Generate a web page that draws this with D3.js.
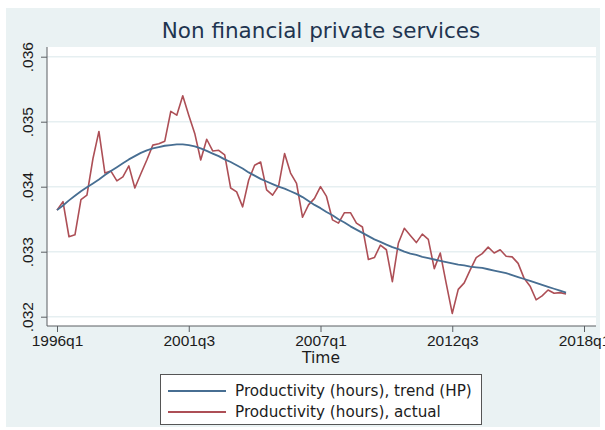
<!DOCTYPE html>
<html>
<head>
<meta charset="utf-8">
<script src="https://cdn.jsdelivr.net/npm/d3@7"></script>
<style>
  html, body { margin: 0; padding: 0; background: #ffffff; }
  svg { display: block; font-family: "DejaVu Sans", Verdana, sans-serif; }
</style>
</head>
<body>
<svg id="chart" width="605" height="430"></svg>
<script>
// Quarterly series, 1996q1 .. 2017q2 (index 0 = 1996q1)
const startYear = 1996;
const actual = [
  0.03364, 0.03377, 0.03323, 0.03326, 0.03380, 0.03387, 0.03443, 0.03485,
  0.03421, 0.03424, 0.03409, 0.03415, 0.03432, 0.03398, 0.03420, 0.03441,
  0.03464, 0.03466, 0.03470, 0.03516, 0.03510, 0.03540, 0.03510, 0.03482,
  0.03441, 0.03473, 0.03455, 0.03456, 0.03449, 0.03398, 0.03392, 0.03369,
  0.03410, 0.03433, 0.03438, 0.03395, 0.03387, 0.03401, 0.03451, 0.03421,
  0.03405, 0.03353, 0.03372, 0.03382, 0.03400, 0.03385, 0.03349, 0.03344,
  0.03360, 0.03360, 0.03344, 0.03338, 0.03288, 0.03291, 0.03310, 0.03303,
  0.03254, 0.03313, 0.03336, 0.03325, 0.03314, 0.03327, 0.03319, 0.03274,
  0.03298, 0.03251, 0.03205, 0.03242, 0.03252, 0.03272, 0.03291, 0.03297,
  0.03307, 0.03298, 0.03303, 0.03293, 0.03292, 0.03282, 0.03259, 0.03247,
  0.03226, 0.03232, 0.03241, 0.03236, 0.03237, 0.03235
];
const trend = [
  0.03364, 0.03371, 0.03379, 0.03386, 0.03393, 0.03399, 0.03405, 0.03411,
  0.03418, 0.03424, 0.03430, 0.03436, 0.03442, 0.03447, 0.03452, 0.03456,
  0.03459, 0.03461, 0.03463, 0.03464, 0.03465, 0.03465, 0.03464, 0.03462,
  0.03459, 0.03455, 0.03451, 0.03447, 0.03442, 0.03438, 0.03433, 0.03428,
  0.03422, 0.03417, 0.03412, 0.03408, 0.03404, 0.03400, 0.03397, 0.03393,
  0.03389, 0.03384, 0.03378, 0.03372, 0.03367, 0.03361, 0.03356, 0.03350,
  0.03345, 0.03339, 0.03334, 0.03329, 0.03324, 0.03319, 0.03315, 0.03311,
  0.03307, 0.03304, 0.03300, 0.03297, 0.03295, 0.03292, 0.03290, 0.03288,
  0.03286, 0.03284, 0.03282, 0.03280, 0.03279, 0.03277, 0.03276, 0.03275,
  0.03273, 0.03271, 0.03269, 0.03267, 0.03264, 0.03261, 0.03258, 0.03255,
  0.03252, 0.03249, 0.03246, 0.03243, 0.03240, 0.03237
];
const xTickIdx = [0, 22, 44, 66, 88];
const xTickLabels = ["1996q1", "2001q3", "2007q1", "2012q3", "2018q1"];
const yTickValues = [0.032, 0.033, 0.034, 0.035, 0.036];
const yTickLabels = [".032", ".033", ".034", ".035", ".036"];
const seriesNames = ["Productivity (hours), trend (HP)", "Productivity (hours), actual"];
const titleText = "Non financial private services";
const xTitle = "Time";

const svg = d3.select("#chart");
const colTrend = "#476e92";
const colActual = "#ad4f56";
const gridCol = "#e6eff1";
const axisCol = "#5a5f63";
const textCol = "#1c1c1c";

// outer graph region
svg.append("rect").attr("x", 6).attr("y", 8).attr("width", 594).attr("height", 419)
  .attr("fill", "#eaf2f3");

// plot region
const plot = { left: 47, right: 596, top: 47, bottom: 326 };
svg.append("rect").attr("x", plot.left).attr("y", plot.top)
  .attr("width", plot.right - plot.left).attr("height", plot.bottom - plot.top)
  .attr("fill", "#ffffff");

const x = d3.scaleLinear().domain([0, 88]).range([57, 584]);
const y = d3.scaleLinear().domain([0.032, 0.036]).range([316.7, 56.7]);

// horizontal grid
svg.append("g").selectAll("line").data(yTickValues).join("line")
  .attr("x1", plot.left).attr("x2", plot.right)
  .attr("y1", d => y(d)).attr("y2", d => y(d))
  .attr("stroke", gridCol).attr("stroke-width", 1.5);

// y axis
const yAxis = d3.axisLeft(y).tickValues(yTickValues).tickSize(6).tickPadding(6)
  .tickFormat((d, i) => yTickLabels[i]);
const gy = svg.append("g").attr("transform", `translate(${plot.left},0)`).call(yAxis);
gy.select(".domain").attr("d", `M0,${plot.top}V${plot.bottom}`).attr("stroke", axisCol);
gy.selectAll(".tick line").attr("stroke", axisCol);
gy.selectAll(".tick text")
  .attr("font-size", 15.5).attr("fill", textCol)
  .attr("text-anchor", "middle").attr("dy", null)
  .attr("transform", "translate(-20,0) rotate(-90)")
  .attr("x", 0).attr("y", 0).attr("dominant-baseline", "central");

// x axis
const xAxis = d3.axisBottom(x).tickValues(xTickIdx).tickSize(6).tickPadding(3)
  .tickFormat((d, i) => xTickLabels[i]);
const gx = svg.append("g").attr("transform", `translate(0,${plot.bottom})`).call(xAxis);
gx.select(".domain").attr("d", `M${plot.left},0H${plot.right}`).attr("stroke", axisCol);
gx.selectAll(".tick line").attr("stroke", axisCol);
gx.selectAll(".tick text").attr("font-size", 15.5).attr("fill", textCol);

// series lines
const line = d3.line().x((d, i) => x(i)).y(d => y(d));
svg.append("path").datum(actual).attr("d", line)
  .attr("fill", "none").attr("stroke", colActual).attr("stroke-width", 1.6)
  .attr("stroke-linejoin", "round");
svg.append("path").datum(trend).attr("d", line)
  .attr("fill", "none").attr("stroke", colTrend).attr("stroke-width", 1.8)
  .attr("stroke-linejoin", "round");

// titles
svg.append("text").attr("x", 321).attr("y", 37.5).attr("text-anchor", "middle")
  .attr("font-size", 21.5).attr("fill", "#1f3550").text(titleText);
svg.append("text").attr("x", 321).attr("y", 362.5).attr("text-anchor", "middle")
  .attr("font-size", 15.5).attr("fill", textCol).text(xTitle);

// legend
const lg = svg.append("g");
lg.append("rect").attr("x", 160.5).attr("y", 374.5).attr("width", 321).attr("height", 50)
  .attr("fill", "#ffffff").attr("stroke", "#555").attr("stroke-width", 1);
const legendItems = [
  { name: seriesNames[0], color: colTrend },
  { name: seriesNames[1], color: colActual }
];
legendItems.forEach((it, i) => {
  const yy = 391 + i * 21;
  lg.append("line").attr("x1", 168).attr("x2", 226).attr("y1", yy).attr("y2", yy)
    .attr("stroke", it.color).attr("stroke-width", 1.8);
  lg.append("text").attr("x", 235).attr("y", yy).attr("dy", "0.35em")
    .attr("font-size", 15.2).attr("fill", textCol).text(it.name);
});
</script>
</body>
</html>
